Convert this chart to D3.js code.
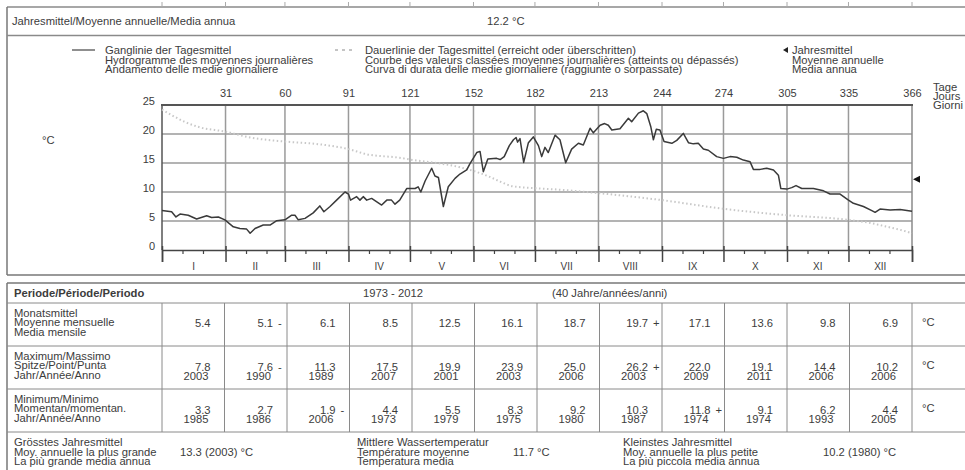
<!DOCTYPE html>
<html><head><meta charset="utf-8">
<script src="https://cdn.jsdelivr.net/npm/d3@7"></script>
<style>
html,body{margin:0;padding:0;background:#fff;}
svg{display:block;font-family:"Liberation Sans",Arial,sans-serif;}
</style></head>
<body>
<svg id="c" width="965" height="470"></svg>
<script>
// ---------- data ----------
const monthLabels = ["I","II","III","IV","V","VI","VII","VIII","IX","X","XI","XII"];
const monthEnds = [31,60,91,121,152,182,213,244,274,305,335,366];
const yTicks = [0,5,10,15,20,25];
const annualMean = 12.2;
// Ganglinie der Tagesmittel: [day, °C]
const dailyMean = [[0,6.8],[4.7,6.6],[6.8,5.7],[8.8,6.2],[12.8,6.0],[16.9,5.35],[21.8,5.9],[24.2,5.6],[27.5,5.7],[30.7,5.2],[34.8,4.0],[38,3.7],[41.3,3.6],[43,2.9],[45.4,3.7],[49.4,4.3],[52.7,4.3],[56,5.05],[60,5.2],[63.3,6.0],[64.9,6.0],[66.5,5.2],[69.8,5.45],[73.8,6.4],[77,7.6],[79,6.6],[82,7.5],[85.2,8.6],[89.3,10.0],[91,9.65],[92,8.6],[95,9.2],[96.6,8.6],[98.2,9.2],[99.9,8.6],[102.3,8.9],[107.2,7.75],[109.7,8.6],[112,8.6],[113.7,7.9],[116,8.6],[119.4,10.6],[123.5,10.6],[125,10.9],[126.3,10.0],[128.4,11.9],[131.6,14.1],[133.2,12.75],[134.9,12.5],[137.3,7.5],[139.7,10.9],[143,12.35],[145.4,13.1],[148.7,13.8],[150.3,14.9],[153.6,16.8],[155.2,17.0],[156.8,13.5],[159,15.7],[163.3,15.8],[165,15.6],[167,16.1],[169.5,18.0],[171.5,19.0],[172.8,19.4],[173.5,18.6],[174.7,19.2],[176.5,15.1],[178.8,18.5],[181.2,19.5],[183.7,18.0],[185.3,16.1],[186.9,17.7],[188.5,16.8],[191.8,19.8],[194.2,19.0],[197,15.05],[199.9,17.4],[203.2,18.4],[205.6,18.1],[208.9,21.0],[210.5,20.2],[213.8,21.5],[216,21.8],[217.8,21.5],[219.5,20.7],[223.5,20.9],[227.6,22.7],[229.2,22.1],[232.5,23.6],[234.9,24.0],[236.6,23.5],[238.5,21.3],[239.8,19.0],[241.2,20.8],[243,20.7],[245,18.7],[248.8,18.4],[251.2,18.9],[254.4,20.1],[256.9,18.5],[259.3,18.3],[261.7,18.4],[264.2,17.4],[266.6,17.2],[270.7,16.1],[274,15.8],[277.2,16.1],[280.5,16.0],[283.7,15.5],[287,15.2],[288.6,13.9],[291.9,13.9],[295.1,14.1],[298.4,13.8],[300.8,12.9],[302,10.6],[304.9,10.5],[307.3,10.75],[309.4,11.1],[312.2,10.6],[317.9,10.6],[322.8,10.2],[326,9.65],[330.9,9.65],[335,8.6],[337.4,8.05],[342.3,7.5],[346.4,6.8],[348,6.5],[350.4,7.05],[355.3,6.9],[360.2,7.0],[366,6.7]];
// Dauerlinie der Tagesmittel: [day, °C]
const durationCurve = [[0,24.2],[5,23.2],[11,22.1],[18,21.2],[31,20.4],[43,19.4],[60,18.7],[75,18.3],[91,17.4],[100,16.5],[116,15.9],[121,15.6],[136,14.9],[145,14.3],[154,13.4],[160,12.6],[165,11.8],[171,11.0],[180,10.7],[194,10.4],[213,9.8],[244,8.6],[274,7.1],[305,6.0],[335,5.2],[345,4.7],[354,4.0],[360,3.5],[366,2.9]];
// table
const monthlyMean  = ["5.4","5.1","6.1","8.5","12.5","16.1","18.7","19.7","17.1","13.6","9.8","6.9"];
const monthlyMark  = ["","-","","","","","","+","","","",""];
const maxVals  = ["7.8","7.6","11.3","17.5","19.9","23.9","25.0","26.2","22.0","19.1","14.4","10.2"];
const maxYears = ["2003","1990","1989","2007","2001","2003","2006","2003","2009","2011","2006","2006"];
const maxMark  = ["","-","","","","","","+","","","",""];
const minVals  = ["3.3","2.7","1.9","4.4","5.5","8.3","9.2","10.3","11.8","9.1","6.2","4.4"];
const minYears = ["1985","1986","2006","1973","1979","1975","1980","1987","1974","1974","1993","2005"];
const minMark  = ["","","-","","","","","","+","","",""];

// ---------- drawing ----------
const svg = d3.select("#c");
const x = d3.scaleLinear().domain([0,366]).range([162,912]);
const y = d3.scaleLinear().domain([0,25]).range([250,105]);
const monthStarts = [0].concat(monthEnds.slice(0,-1));
const SX = 1.1, FS = 10.2, TXT = "#3c3c3c", LN = "#8a8a8a";

function T(x0,y0,s,o={}){
  return svg.append("text")
    .attr("transform",`translate(${x0},${y0}) scale(${o.sx||SX},1)`)
    .attr("text-anchor",o.anchor||"start")
    .style("font-size",(o.size||FS)+"px")
    .style("font-weight",o.bold?"bold":null)
    .attr("fill",o.fill||TXT).text(s);
}
function L(x1,y1,x2,y2,c,w){
  svg.append("line").attr("x1",x1).attr("y1",y1).attr("x2",x2).attr("y2",y2)
    .attr("stroke",c||LN).attr("stroke-width",w||1);
}

// outer frame of upper section
L(7,7,965,7,LN,1.5);
[0].concat(monthEnds).forEach(d=>L(x(d),2,x(d),7,"#aaa",1));
L(7,7,7,275,"#777",1.5);
L(7,35.5,965,35.5,LN,1.5);
L(7,275,965,275,"#777",1.5);
T(12,25,"Jahresmittel/Moyenne annuelle/Media annua");
T(487,25,annualMean.toFixed(1)+" °C");

// legend
L(72,50,95,50,"#444",1.2);
T(105,54,"Ganglinie der Tagesmittel");
T(105,63.5,"Hydrogramme des moyennes journalières");
T(105,73,"Andamento delle medie giornaliere");
svg.append("line").attr("x1",335).attr("y1",50).attr("x2",354).attr("y2",50)
  .attr("stroke","#8a8a8a").attr("stroke-width",1).attr("stroke-dasharray","3,4");
T(365,54,"Dauerlinie der Tagesmittel (erreicht oder überschritten)");
T(365,63.5,"Courbe des valeurs classées moyennes journalières (atteints ou dépassés)");
T(365,73,"Curva di durata delle medie giornaliere (raggiunte o sorpassate)");
svg.append("path").attr("d","M783,50 L788,47 L788,53 Z").attr("fill","#222");
T(792,54,"Jahresmittel");
T(792,63.5,"Moyenne annuelle");
T(792,73,"Media annua");

// unit labels
T(42,144,"°C");
T(933,91,"Tage");
T(933,100,"Jours");
T(933,109,"Giorni");

// grid
const grid = svg.append("g");
yTicks.filter(v=>v>0&&v<25).forEach(v=>{
  grid.append("line").attr("x1",x(0)).attr("x2",x(366)).attr("y1",y(v)).attr("y2",y(v))
    .attr("stroke","#9a9a9a").attr("stroke-width",1.5);
});
monthEnds.slice(0,-1).forEach(d=>{
  grid.append("line").attr("x1",x(d)).attr("x2",x(d)).attr("y1",y(25)).attr("y2",y(0))
    .attr("stroke","#9a9a9a").attr("stroke-width",1.5);
});
// plot frame
L(x(366),y(25),x(366),y(0),"#8a8a8a",1.5);
L(x(0),y(25),x(0),y(0),"#555",1.5);
L(x(0)-1,y(25),x(366)+1,y(25),"#555",2);

// top axis (day numbers)
const axTop = svg.append("g").attr("transform",`translate(0,${y(25)-8})`)
  .call(d3.axisTop(x).tickValues(monthEnds).tickSize(0).tickPadding(0));
axTop.select(".domain").remove();
axTop.selectAll("text").style("font-size","11px").attr("fill",TXT).style("font-family","Liberation Sans, Arial, sans-serif");

// left axis
const axLeft = svg.append("g").attr("transform",`translate(155,-4)`)
  .call(d3.axisLeft(y).tickValues(yTicks).tickSize(0).tickPadding(0));
axLeft.select(".domain").remove();
axLeft.selectAll("text").style("font-size","11px").attr("fill",TXT).style("font-family","Liberation Sans, Arial, sans-serif");

// bottom axis: major ticks at month boundaries
const axBot = svg.append("g").attr("transform",`translate(0,${y(0)})`)
  .call(d3.axisBottom(x).tickValues([0].concat(monthEnds)).tickSize(12).tickFormat(""));
axBot.select(".domain").attr("stroke","#444").attr("stroke-width",1.5);
axBot.selectAll(".tick line").attr("stroke","#444").attr("stroke-width",1.5).attr("y1",-4);
// minor ticks at 10 and 20 days into each month
const minor = [];
monthStarts.forEach(s=>{minor.push(s+10);minor.push(s+20);});
const axMin = svg.append("g").attr("transform",`translate(0,${y(0)})`)
  .call(d3.axisBottom(x).tickValues(minor).tickSize(4).tickFormat(""));
axMin.select(".domain").remove();
axMin.selectAll(".tick line").attr("stroke","#444").attr("stroke-width",1.2);
// month labels
monthLabels.forEach((m,i)=>{
  T(x((monthStarts[i]+monthEnds[i])/2),270,m,{anchor:"middle",size:10,sx:1});
});

// duration curve
svg.append("path").datum(durationCurve)
  .attr("d",d3.line().x(d=>x(d[0])).y(d=>y(d[1])).curve(d3.curveMonotoneX))
  .attr("fill","none").attr("stroke","#c8c8c8").attr("stroke-width",2)
  .attr("stroke-dasharray","1.5,2.5");
// daily mean hydrograph
svg.append("path").datum(dailyMean)
  .attr("d",d3.line().x(d=>x(d[0])).y(d=>y(d[1])))
  .attr("fill","none").attr("stroke","#3a3a3a").attr("stroke-width",1.5)
  .attr("stroke-linejoin","round");
// annual mean marker
const ym = y(annualMean);
svg.append("path").attr("d",`M${x(366)+1},${ym} L${x(366)+8},${ym-3.5} L${x(366)+8},${ym+3.5} Z`).attr("fill","#111");

// ---------- table ----------
const tTop=283, rH=[303,346,389,432];
const colX = d3.range(13).map(i=>162+i*62.5);
L(7,tTop,965,tTop,"#777",1.5);
L(7,tTop,7,470,"#777",1.5);
rH.forEach(v=>L(7,v,965,v,LN,1));
colX.forEach(cx=>L(cx,rH[0],cx,rH[3],LN,1));
T(14,297,"Periode/Période/Periodo",{bold:true});
T(363,297,"1973 - 2012");
T(552,297,"(40 Jahre/années/anni)");

function rowLabels(top,lines){lines.forEach((s,i)=>T(14,top+13.5+i*9.7,s));}
rowLabels(rH[0],["Monatsmittel","Moyenne mensuelle","Media mensile"]);
rowLabels(rH[1],["Maximum/Massimo","Spitze/Point/Punta","Jahr/Année/Anno"]);
rowLabels(rH[2],["Minimum/Minimo","Momentan/momentan.","Jahr/Année/Anno"]);

function cellVals(vals,marks,years,top){
  vals.forEach((v,i)=>{
    const r = colX[i+1]-14;
    const yy = years ? top+24.5 : top+23.5;
    T(r,yy,v,{anchor:"end"});
    if(marks[i]) T(r+5,yy,marks[i]);
    if(years) T(r-2,yy+9.3,years[i],{anchor:"end"});
  });
  T(922,top+23,"°C");
}
cellVals(monthlyMean,monthlyMark,null,rH[0]);
cellVals(maxVals,maxMark,maxYears,rH[1]);
cellVals(minVals,minMark,minYears,rH[2]);

// footer
T(14,446,"Grösstes Jahresmittel");
T(14,455.5,"Moy. annuelle la plus grande");
T(14,465,"La più grande media annua");
T(180,455.5,"13.3 (2003) °C");
T(357,446,"Mittlere Wassertemperatur");
T(357,455.5,"Température moyenne");
T(357,465,"Temperatura media");
T(513,455.5,"11.7 °C");
T(623,446,"Kleinstes Jahresmittel");
T(623,455.5,"Moy. annuelle la plus petite");
T(623,465,"La più piccola media annua");
T(823,455.5,"10.2 (1980) °C");
</script>
</body></html>
